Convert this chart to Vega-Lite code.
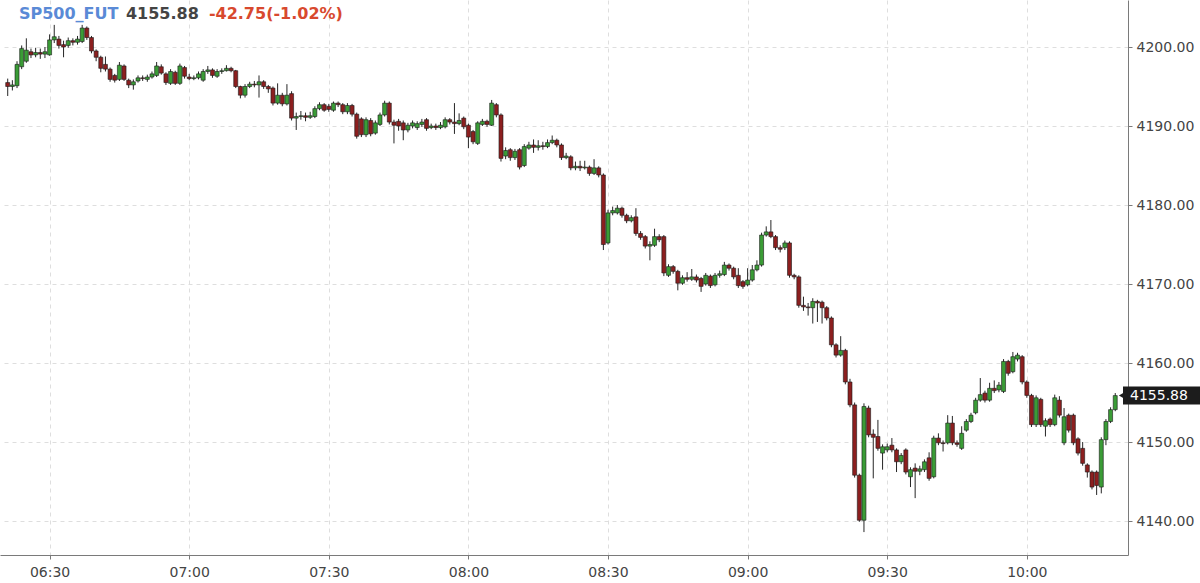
{
  "$schema": "https://vega.github.io/schema/vega-lite/v6.json",
  "width": 1128,
  "height": 555,
  "autosize": {"type": "none"},
  "padding": {"left": 0, "top": 0, "right": 72, "bottom": 28},
  "background": "#ffffff",
  "config": {
    "view": {"stroke": null},
    "axis": {
      "labelFont": "DejaVu Sans",
      "labelFontSize": 14,
      "labelColor": "#444444",
      "domainColor": "#7a7a7a",
      "tickColor": "#7a7a7a",
      "gridColor": "#dedede",
      "gridDash": [4, 4],
      "tickSize": 4
    }
  },
  "data": {
    "format": {"parse": {"t": "utc:'%H:%M'"}},
    "values": [
      {"t":"06:21","o":4195.5,"h":4196.0,"l":4193.8,"c":4195.0},
      {"t":"06:22","o":4195.0,"h":4195.8,"l":4194.5,"c":4195.2},
      {"t":"06:23","o":4195.1,"h":4198.2,"l":4194.8,"c":4197.8},
      {"t":"06:24","o":4197.5,"h":4200.2,"l":4197.2,"c":4199.8},
      {"t":"06:25","o":4198.2,"h":4201.1,"l":4198.0,"c":4199.6},
      {"t":"06:26","o":4199.4,"h":4199.8,"l":4198.6,"c":4199.0},
      {"t":"06:27","o":4199.0,"h":4199.9,"l":4198.7,"c":4199.3},
      {"t":"06:28","o":4199.3,"h":4199.8,"l":4198.5,"c":4199.1},
      {"t":"06:29","o":4199.1,"h":4200.0,"l":4198.6,"c":4199.4},
      {"t":"06:30","o":4199.0,"h":4201.6,"l":4198.9,"c":4200.9},
      {"t":"06:31","o":4200.9,"h":4202.8,"l":4200.5,"c":4201.3},
      {"t":"06:32","o":4201.0,"h":4201.4,"l":4199.8,"c":4200.2},
      {"t":"06:33","o":4200.3,"h":4200.8,"l":4198.7,"c":4200.0},
      {"t":"06:34","o":4200.2,"h":4201.2,"l":4199.9,"c":4200.8},
      {"t":"06:35","o":4200.8,"h":4201.1,"l":4200.2,"c":4200.6},
      {"t":"06:36","o":4200.6,"h":4201.4,"l":4200.3,"c":4201.0},
      {"t":"06:37","o":4200.7,"h":4202.8,"l":4200.5,"c":4202.4},
      {"t":"06:38","o":4202.4,"h":4202.6,"l":4200.9,"c":4201.2},
      {"t":"06:39","o":4201.2,"h":4201.4,"l":4199.2,"c":4199.5},
      {"t":"06:40","o":4199.5,"h":4199.7,"l":4198.2,"c":4198.7},
      {"t":"06:41","o":4198.7,"h":4198.9,"l":4196.8,"c":4197.3},
      {"t":"06:42","o":4197.8,"h":4198.8,"l":4196.9,"c":4197.2},
      {"t":"06:43","o":4197.2,"h":4197.4,"l":4195.6,"c":4195.9},
      {"t":"06:44","o":4196.4,"h":4196.6,"l":4195.5,"c":4195.8},
      {"t":"06:45","o":4195.9,"h":4198.1,"l":4195.7,"c":4197.7},
      {"t":"06:46","o":4197.6,"h":4197.8,"l":4195.7,"c":4195.9},
      {"t":"06:47","o":4195.8,"h":4196.0,"l":4194.8,"c":4195.2},
      {"t":"06:48","o":4195.2,"h":4195.9,"l":4194.6,"c":4195.6},
      {"t":"06:49","o":4195.7,"h":4196.4,"l":4195.5,"c":4196.1},
      {"t":"06:50","o":4196.1,"h":4196.4,"l":4195.7,"c":4196.0},
      {"t":"06:51","o":4195.9,"h":4196.5,"l":4195.6,"c":4196.2},
      {"t":"06:52","o":4196.2,"h":4196.9,"l":4196.0,"c":4196.6},
      {"t":"06:53","o":4196.4,"h":4198.1,"l":4196.2,"c":4197.6},
      {"t":"06:54","o":4197.5,"h":4197.8,"l":4196.5,"c":4196.7},
      {"t":"06:55","o":4196.6,"h":4196.8,"l":4195.2,"c":4195.5},
      {"t":"06:56","o":4195.4,"h":4197.2,"l":4195.2,"c":4196.9},
      {"t":"06:57","o":4196.8,"h":4197.0,"l":4195.2,"c":4195.4},
      {"t":"06:58","o":4195.4,"h":4197.9,"l":4195.2,"c":4197.6},
      {"t":"06:59","o":4197.4,"h":4197.6,"l":4196.0,"c":4196.3},
      {"t":"07:00","o":4196.2,"h":4196.6,"l":4195.8,"c":4196.0},
      {"t":"07:01","o":4196.0,"h":4196.4,"l":4195.8,"c":4196.1},
      {"t":"07:02","o":4196.1,"h":4196.9,"l":4195.9,"c":4196.6},
      {"t":"07:03","o":4195.8,"h":4197.2,"l":4195.6,"c":4196.9},
      {"t":"07:04","o":4196.9,"h":4197.6,"l":4196.6,"c":4197.1},
      {"t":"07:05","o":4197.1,"h":4197.3,"l":4196.1,"c":4196.4},
      {"t":"07:06","o":4196.3,"h":4197.2,"l":4196.1,"c":4196.9},
      {"t":"07:07","o":4196.9,"h":4197.3,"l":4196.6,"c":4197.0},
      {"t":"07:08","o":4197.0,"h":4197.7,"l":4196.9,"c":4197.3},
      {"t":"07:09","o":4197.3,"h":4197.5,"l":4196.8,"c":4197.0},
      {"t":"07:10","o":4197.0,"h":4197.1,"l":4194.8,"c":4195.0},
      {"t":"07:11","o":4195.0,"h":4195.1,"l":4193.5,"c":4193.9},
      {"t":"07:12","o":4193.9,"h":4195.3,"l":4193.6,"c":4195.0},
      {"t":"07:13","o":4195.0,"h":4195.6,"l":4194.8,"c":4195.3},
      {"t":"07:14","o":4195.3,"h":4195.7,"l":4194.9,"c":4195.2},
      {"t":"07:15","o":4195.2,"h":4196.4,"l":4193.6,"c":4195.6},
      {"t":"07:16","o":4195.6,"h":4195.8,"l":4194.7,"c":4195.0},
      {"t":"07:17","o":4195.0,"h":4195.2,"l":4194.2,"c":4194.7},
      {"t":"07:18","o":4194.8,"h":4195.0,"l":4192.6,"c":4192.9},
      {"t":"07:19","o":4192.9,"h":4195.4,"l":4192.7,"c":4193.9},
      {"t":"07:20","o":4193.9,"h":4194.2,"l":4192.5,"c":4192.8},
      {"t":"07:21","o":4192.8,"h":4195.3,"l":4192.6,"c":4193.9},
      {"t":"07:22","o":4194.1,"h":4194.4,"l":4190.7,"c":4191.0},
      {"t":"07:23","o":4191.0,"h":4191.7,"l":4189.5,"c":4191.2},
      {"t":"07:24","o":4191.2,"h":4191.9,"l":4190.8,"c":4191.3},
      {"t":"07:25","o":4191.3,"h":4191.7,"l":4190.6,"c":4191.1},
      {"t":"07:26","o":4191.1,"h":4191.8,"l":4190.9,"c":4191.3},
      {"t":"07:27","o":4191.2,"h":4192.5,"l":4191.0,"c":4192.2},
      {"t":"07:28","o":4192.2,"h":4193.0,"l":4192.0,"c":4192.7},
      {"t":"07:29","o":4192.7,"h":4192.9,"l":4191.8,"c":4192.0},
      {"t":"07:30","o":4192.5,"h":4192.8,"l":4191.8,"c":4192.1},
      {"t":"07:31","o":4192.0,"h":4193.1,"l":4191.8,"c":4192.9},
      {"t":"07:32","o":4192.9,"h":4193.1,"l":4192.4,"c":4192.7},
      {"t":"07:33","o":4192.7,"h":4192.9,"l":4191.5,"c":4191.8},
      {"t":"07:34","o":4191.8,"h":4192.9,"l":4191.5,"c":4192.6},
      {"t":"07:35","o":4192.6,"h":4192.8,"l":4191.2,"c":4191.5},
      {"t":"07:36","o":4191.5,"h":4191.7,"l":4188.4,"c":4188.7},
      {"t":"07:37","o":4190.9,"h":4191.1,"l":4188.6,"c":4188.9},
      {"t":"07:38","o":4188.9,"h":4191.1,"l":4188.6,"c":4190.8},
      {"t":"07:39","o":4190.7,"h":4191.0,"l":4188.7,"c":4189.0},
      {"t":"07:40","o":4189.1,"h":4190.7,"l":4188.9,"c":4190.4},
      {"t":"07:41","o":4190.2,"h":4191.7,"l":4190.0,"c":4191.4},
      {"t":"07:42","o":4191.4,"h":4193.2,"l":4191.2,"c":4192.9},
      {"t":"07:43","o":4192.9,"h":4193.1,"l":4190.2,"c":4190.5},
      {"t":"07:44","o":4190.5,"h":4190.8,"l":4187.8,"c":4190.1},
      {"t":"07:45","o":4190.6,"h":4190.9,"l":4189.4,"c":4190.0},
      {"t":"07:46","o":4190.4,"h":4190.7,"l":4188.2,"c":4189.5},
      {"t":"07:47","o":4189.5,"h":4190.4,"l":4189.2,"c":4190.1},
      {"t":"07:48","o":4190.0,"h":4190.7,"l":4189.7,"c":4190.4},
      {"t":"07:49","o":4189.8,"h":4190.6,"l":4189.5,"c":4190.3},
      {"t":"07:50","o":4190.2,"h":4190.9,"l":4189.9,"c":4190.5},
      {"t":"07:51","o":4190.8,"h":4191.0,"l":4189.4,"c":4189.7},
      {"t":"07:52","o":4189.8,"h":4190.3,"l":4189.6,"c":4190.0},
      {"t":"07:53","o":4190.0,"h":4190.3,"l":4189.5,"c":4189.8},
      {"t":"07:54","o":4189.8,"h":4190.5,"l":4189.6,"c":4190.1},
      {"t":"07:55","o":4189.9,"h":4191.1,"l":4189.7,"c":4190.8},
      {"t":"07:56","o":4190.8,"h":4191.0,"l":4190.2,"c":4190.5},
      {"t":"07:57","o":4190.5,"h":4192.9,"l":4189.0,"c":4190.3},
      {"t":"07:58","o":4190.3,"h":4191.6,"l":4190.1,"c":4190.7},
      {"t":"07:59","o":4191.0,"h":4191.2,"l":4189.6,"c":4189.9},
      {"t":"08:00","o":4190.1,"h":4190.3,"l":4187.2,"c":4188.6},
      {"t":"08:01","o":4189.3,"h":4189.5,"l":4187.7,"c":4188.0},
      {"t":"08:02","o":4187.8,"h":4190.6,"l":4187.6,"c":4190.4},
      {"t":"08:03","o":4190.2,"h":4190.9,"l":4190.0,"c":4190.6},
      {"t":"08:04","o":4190.6,"h":4190.8,"l":4189.9,"c":4190.2},
      {"t":"08:05","o":4190.1,"h":4193.3,"l":4190.0,"c":4192.9},
      {"t":"08:06","o":4192.7,"h":4192.9,"l":4191.1,"c":4191.4},
      {"t":"08:07","o":4191.4,"h":4191.6,"l":4185.5,"c":4185.9},
      {"t":"08:08","o":4186.2,"h":4187.3,"l":4185.8,"c":4186.9},
      {"t":"08:09","o":4187.0,"h":4187.2,"l":4185.6,"c":4186.0},
      {"t":"08:10","o":4186.0,"h":4187.1,"l":4185.7,"c":4186.8},
      {"t":"08:11","o":4187.0,"h":4187.2,"l":4184.5,"c":4184.8},
      {"t":"08:12","o":4185.0,"h":4187.7,"l":4184.8,"c":4187.4},
      {"t":"08:13","o":4187.2,"h":4188.0,"l":4187.0,"c":4187.6},
      {"t":"08:14","o":4187.6,"h":4188.3,"l":4186.6,"c":4187.3},
      {"t":"08:15","o":4187.3,"h":4188.2,"l":4186.9,"c":4187.5},
      {"t":"08:16","o":4187.5,"h":4188.0,"l":4187.0,"c":4187.4},
      {"t":"08:17","o":4187.4,"h":4188.3,"l":4187.2,"c":4187.9},
      {"t":"08:18","o":4187.9,"h":4188.8,"l":4187.7,"c":4188.2},
      {"t":"08:19","o":4188.2,"h":4188.4,"l":4187.3,"c":4187.6},
      {"t":"08:20","o":4187.6,"h":4187.8,"l":4185.7,"c":4186.0},
      {"t":"08:21","o":4186.0,"h":4186.6,"l":4185.8,"c":4186.2},
      {"t":"08:22","o":4186.1,"h":4186.3,"l":4184.4,"c":4184.7},
      {"t":"08:23","o":4184.7,"h":4185.5,"l":4184.4,"c":4184.9},
      {"t":"08:24","o":4184.9,"h":4185.6,"l":4184.3,"c":4184.7},
      {"t":"08:25","o":4184.7,"h":4185.6,"l":4184.5,"c":4184.8},
      {"t":"08:26","o":4184.8,"h":4185.0,"l":4183.7,"c":4184.0},
      {"t":"08:27","o":4184.0,"h":4185.8,"l":4183.8,"c":4184.7},
      {"t":"08:28","o":4184.7,"h":4184.9,"l":4183.5,"c":4183.8},
      {"t":"08:29","o":4183.8,"h":4184.0,"l":4174.3,"c":4175.0},
      {"t":"08:30","o":4175.2,"h":4179.4,"l":4175.0,"c":4179.0},
      {"t":"08:31","o":4179.0,"h":4179.8,"l":4178.7,"c":4179.3},
      {"t":"08:32","o":4179.0,"h":4180.0,"l":4178.8,"c":4179.6},
      {"t":"08:33","o":4179.6,"h":4179.8,"l":4178.4,"c":4178.7},
      {"t":"08:34","o":4178.7,"h":4178.9,"l":4177.7,"c":4178.0},
      {"t":"08:35","o":4178.0,"h":4178.7,"l":4177.8,"c":4178.4},
      {"t":"08:36","o":4178.5,"h":4179.6,"l":4176.1,"c":4176.4},
      {"t":"08:37","o":4176.4,"h":4176.7,"l":4175.6,"c":4175.9},
      {"t":"08:38","o":4176.0,"h":4176.2,"l":4174.5,"c":4174.8},
      {"t":"08:39","o":4174.8,"h":4175.4,"l":4173.0,"c":4175.0},
      {"t":"08:40","o":4174.9,"h":4177.0,"l":4174.7,"c":4176.0},
      {"t":"08:41","o":4176.0,"h":4176.3,"l":4175.3,"c":4175.6},
      {"t":"08:42","o":4176.0,"h":4176.2,"l":4171.0,"c":4171.4},
      {"t":"08:43","o":4171.1,"h":4172.5,"l":4170.9,"c":4172.2},
      {"t":"08:44","o":4172.2,"h":4172.4,"l":4171.3,"c":4171.6},
      {"t":"08:45","o":4171.6,"h":4171.8,"l":4169.2,"c":4170.1},
      {"t":"08:46","o":4170.1,"h":4171.1,"l":4169.9,"c":4170.8},
      {"t":"08:47","o":4170.8,"h":4171.5,"l":4170.3,"c":4170.6},
      {"t":"08:48","o":4170.6,"h":4171.9,"l":4170.4,"c":4170.9},
      {"t":"08:49","o":4170.9,"h":4171.2,"l":4170.2,"c":4170.5},
      {"t":"08:50","o":4170.7,"h":4170.9,"l":4169.0,"c":4169.7},
      {"t":"08:51","o":4170.0,"h":4171.4,"l":4169.8,"c":4171.1},
      {"t":"08:52","o":4171.0,"h":4171.2,"l":4169.5,"c":4169.8},
      {"t":"08:53","o":4169.9,"h":4171.4,"l":4169.7,"c":4171.1},
      {"t":"08:54","o":4171.1,"h":4171.7,"l":4170.8,"c":4171.3},
      {"t":"08:55","o":4171.2,"h":4172.8,"l":4171.0,"c":4172.4},
      {"t":"08:56","o":4172.4,"h":4172.6,"l":4171.7,"c":4172.0},
      {"t":"08:57","o":4172.0,"h":4172.2,"l":4170.6,"c":4170.9},
      {"t":"08:58","o":4171.1,"h":4172.0,"l":4169.5,"c":4169.8},
      {"t":"08:59","o":4170.3,"h":4170.5,"l":4169.4,"c":4169.7},
      {"t":"09:00","o":4169.9,"h":4172.0,"l":4169.7,"c":4170.5},
      {"t":"09:01","o":4170.5,"h":4172.4,"l":4170.3,"c":4171.8},
      {"t":"09:02","o":4171.8,"h":4173.0,"l":4171.6,"c":4172.4},
      {"t":"09:03","o":4172.4,"h":4176.5,"l":4172.2,"c":4176.2},
      {"t":"09:04","o":4176.2,"h":4177.3,"l":4176.0,"c":4176.6},
      {"t":"09:05","o":4176.6,"h":4178.1,"l":4175.8,"c":4176.0},
      {"t":"09:06","o":4176.0,"h":4176.2,"l":4174.3,"c":4174.6},
      {"t":"09:07","o":4174.6,"h":4174.9,"l":4174.0,"c":4174.4},
      {"t":"09:08","o":4174.6,"h":4175.5,"l":4174.3,"c":4175.2},
      {"t":"09:09","o":4175.2,"h":4175.4,"l":4170.8,"c":4171.1},
      {"t":"09:10","o":4171.1,"h":4171.3,"l":4170.6,"c":4170.9},
      {"t":"09:11","o":4170.9,"h":4171.1,"l":4167.0,"c":4167.3},
      {"t":"09:12","o":4167.3,"h":4168.4,"l":4166.6,"c":4167.1},
      {"t":"09:13","o":4167.1,"h":4167.6,"l":4166.0,"c":4167.0},
      {"t":"09:14","o":4167.0,"h":4168.2,"l":4165.0,"c":4167.8},
      {"t":"09:15","o":4167.8,"h":4168.0,"l":4165.2,"c":4167.6},
      {"t":"09:16","o":4167.7,"h":4167.9,"l":4165.0,"c":4167.0},
      {"t":"09:17","o":4167.0,"h":4167.2,"l":4165.4,"c":4165.7},
      {"t":"09:18","o":4165.7,"h":4165.9,"l":4162.0,"c":4162.3},
      {"t":"09:19","o":4162.3,"h":4162.5,"l":4160.7,"c":4161.0},
      {"t":"09:20","o":4161.0,"h":4163.4,"l":4160.8,"c":4161.6},
      {"t":"09:21","o":4161.6,"h":4161.8,"l":4157.3,"c":4157.6},
      {"t":"09:22","o":4157.6,"h":4158.0,"l":4154.4,"c":4154.7},
      {"t":"09:23","o":4154.7,"h":4155.0,"l":4145.5,"c":4145.8},
      {"t":"09:24","o":4145.8,"h":4146.0,"l":4139.9,"c":4140.1},
      {"t":"09:25","o":4140.1,"h":4154.9,"l":4138.6,"c":4154.5},
      {"t":"09:26","o":4154.3,"h":4154.6,"l":4150.6,"c":4150.9},
      {"t":"09:27","o":4151.0,"h":4151.6,"l":4145.4,"c":4150.6},
      {"t":"09:28","o":4150.7,"h":4152.8,"l":4148.9,"c":4149.2},
      {"t":"09:29","o":4148.6,"h":4149.7,"l":4146.5,"c":4149.4},
      {"t":"09:30","o":4149.0,"h":4149.8,"l":4148.7,"c":4149.4},
      {"t":"09:31","o":4149.6,"h":4150.5,"l":4148.7,"c":4149.0},
      {"t":"09:32","o":4149.0,"h":4149.2,"l":4146.2,"c":4147.5},
      {"t":"09:33","o":4147.5,"h":4148.6,"l":4147.2,"c":4148.3},
      {"t":"09:34","o":4149.0,"h":4149.2,"l":4145.9,"c":4146.2},
      {"t":"09:35","o":4145.6,"h":4146.8,"l":4144.3,"c":4146.5},
      {"t":"09:36","o":4146.7,"h":4147.3,"l":4142.9,"c":4146.3},
      {"t":"09:37","o":4146.3,"h":4147.0,"l":4145.8,"c":4146.6},
      {"t":"09:38","o":4146.5,"h":4147.8,"l":4146.2,"c":4147.5},
      {"t":"09:39","o":4148.0,"h":4148.7,"l":4145.1,"c":4145.4},
      {"t":"09:40","o":4145.6,"h":4150.8,"l":4145.4,"c":4150.5},
      {"t":"09:41","o":4150.5,"h":4151.1,"l":4149.6,"c":4149.9},
      {"t":"09:42","o":4149.9,"h":4150.2,"l":4148.8,"c":4149.8},
      {"t":"09:43","o":4149.9,"h":4153.4,"l":4149.7,"c":4152.4},
      {"t":"09:44","o":4152.4,"h":4153.3,"l":4149.6,"c":4149.9},
      {"t":"09:45","o":4149.9,"h":4150.2,"l":4149.4,"c":4149.7},
      {"t":"09:46","o":4149.2,"h":4152.0,"l":4149.0,"c":4151.1},
      {"t":"09:47","o":4151.5,"h":4152.9,"l":4151.3,"c":4152.6},
      {"t":"09:48","o":4152.6,"h":4153.7,"l":4152.4,"c":4153.4},
      {"t":"09:49","o":4153.7,"h":4155.6,"l":4153.5,"c":4155.3},
      {"t":"09:50","o":4155.3,"h":4158.1,"l":4155.1,"c":4156.0},
      {"t":"09:51","o":4156.2,"h":4156.5,"l":4155.0,"c":4155.3},
      {"t":"09:52","o":4155.3,"h":4157.5,"l":4155.1,"c":4156.8},
      {"t":"09:53","o":4156.8,"h":4157.8,"l":4156.2,"c":4156.5},
      {"t":"09:54","o":4156.6,"h":4157.6,"l":4156.3,"c":4157.2},
      {"t":"09:55","o":4156.4,"h":4160.5,"l":4156.2,"c":4160.2},
      {"t":"09:56","o":4160.2,"h":4160.4,"l":4158.4,"c":4158.7},
      {"t":"09:57","o":4158.9,"h":4161.4,"l":4158.7,"c":4160.8},
      {"t":"09:58","o":4160.5,"h":4161.3,"l":4160.2,"c":4161.0},
      {"t":"09:59","o":4160.8,"h":4161.0,"l":4157.3,"c":4157.6},
      {"t":"10:00","o":4157.6,"h":4157.8,"l":4155.6,"c":4155.9},
      {"t":"10:01","o":4155.9,"h":4156.1,"l":4151.9,"c":4152.2},
      {"t":"10:02","o":4152.2,"h":4155.9,"l":4151.9,"c":4155.6},
      {"t":"10:03","o":4155.4,"h":4155.6,"l":4151.9,"c":4152.2},
      {"t":"10:04","o":4152.0,"h":4153.0,"l":4150.7,"c":4152.7},
      {"t":"10:05","o":4152.9,"h":4153.1,"l":4151.9,"c":4152.2},
      {"t":"10:06","o":4152.2,"h":4156.0,"l":4152.0,"c":4155.6},
      {"t":"10:07","o":4155.3,"h":4155.8,"l":4153.1,"c":4153.4},
      {"t":"10:08","o":4149.9,"h":4154.3,"l":4149.6,"c":4153.2},
      {"t":"10:09","o":4153.4,"h":4153.6,"l":4151.2,"c":4151.5},
      {"t":"10:10","o":4153.4,"h":4153.6,"l":4149.6,"c":4149.9},
      {"t":"10:11","o":4150.4,"h":4150.6,"l":4148.3,"c":4148.6},
      {"t":"10:12","o":4149.2,"h":4150.0,"l":4147.0,"c":4147.3},
      {"t":"10:13","o":4147.1,"h":4147.3,"l":4145.5,"c":4146.2},
      {"t":"10:14","o":4146.2,"h":4146.4,"l":4144.0,"c":4144.3},
      {"t":"10:15","o":4146.2,"h":4146.4,"l":4143.3,"c":4144.5},
      {"t":"10:16","o":4144.3,"h":4150.6,"l":4143.5,"c":4150.3},
      {"t":"10:17","o":4150.3,"h":4152.9,"l":4149.6,"c":4152.6},
      {"t":"10:18","o":4152.6,"h":4154.4,"l":4152.4,"c":4154.1},
      {"t":"10:19","o":4154.1,"h":4156.2,"l":4153.9,"c":4155.88}
    ]
  },
  "layer": [
    {
      "mark": {"type": "rule", "color": "#262626", "strokeWidth": 1},
      "encoding": {
        "x": {
          "field": "t",
          "type": "temporal",
          "title": null,
          "scale": {
            "type": "utc",
            "nice": false,
            "domain": [
              {"year": 1900, "month": 1, "date": 1, "hours": 6, "minutes": 20, "seconds": 25, "utc": true},
              {"year": 1900, "month": 1, "date": 1, "hours": 10, "minutes": 20, "seconds": 40, "utc": true}
            ]
          },
          "axis": {
            "orient": "bottom",
            "format": "%H:%M",
            "values": [
              {"year": 1900, "month": 1, "date": 1, "hours": 6, "minutes": 30, "utc": true},
              {"year": 1900, "month": 1, "date": 1, "hours": 7, "minutes": 0, "utc": true},
              {"year": 1900, "month": 1, "date": 1, "hours": 7, "minutes": 30, "utc": true},
              {"year": 1900, "month": 1, "date": 1, "hours": 8, "minutes": 0, "utc": true},
              {"year": 1900, "month": 1, "date": 1, "hours": 8, "minutes": 30, "utc": true},
              {"year": 1900, "month": 1, "date": 1, "hours": 9, "minutes": 0, "utc": true},
              {"year": 1900, "month": 1, "date": 1, "hours": 9, "minutes": 30, "utc": true},
              {"year": 1900, "month": 1, "date": 1, "hours": 10, "minutes": 0, "utc": true}
            ],
            "labelPadding": 6,
            "grid": true
          }
        },
        "y": {
          "field": "l",
          "type": "quantitative",
          "title": null,
          "scale": {"domain": [4135.7, 4205.95], "nice": false, "zero": false},
          "axis": {
            "orient": "right",
            "values": [4140, 4150, 4160, 4170, 4180, 4190, 4200],
            "format": ".2f",
            "labelAlign": "left",
            "labelPadding": 4,
            "grid": true
          }
        },
        "y2": {"field": "h"}
      }
    },
    {
      "mark": {"type": "bar", "width": 4, "stroke": "#1a1a1a", "strokeWidth": 0.6},
      "encoding": {
        "x": {"field": "t", "type": "temporal"},
        "y": {"field": "o", "type": "quantitative", "title": null},
        "y2": {"field": "c"},
        "color": {
          "condition": {"test": "datum.c > datum.o", "value": "#3a9c36"},
          "value": "#8c1f1f"
        }
      }
    },
    {
      "data": {"values": [{}]},
      "mark": {"type": "text", "align": "left", "baseline": "middle", "fontSize": 16, "fontWeight": "bold", "color": "#5a8ad6", "font": "DejaVu Sans"},
      "encoding": {
        "x": {"datum": -2208965796000, "type": "temporal"},
        "y": {"datum": 4204.2, "type": "quantitative"},
        "text": {"value": "SP500_FUT"}
      }
    },
    {
      "data": {"values": [{}]},
      "mark": {"type": "text", "align": "left", "baseline": "middle", "fontSize": 16, "fontWeight": "bold", "color": "#444444", "font": "DejaVu Sans", "dx": 107},
      "encoding": {
        "x": {"datum": -2208965796000, "type": "temporal"},
        "y": {"datum": 4204.2, "type": "quantitative"},
        "text": {"value": "4155.88"}
      }
    },
    {
      "data": {"values": [{}]},
      "mark": {"type": "text", "align": "left", "baseline": "middle", "fontSize": 16, "fontWeight": "bold", "color": "#d8492e", "font": "DejaVu Sans", "dx": 190},
      "encoding": {
        "x": {"datum": -2208965796000, "type": "temporal"},
        "y": {"datum": 4204.2, "type": "quantitative"},
        "text": {"value": "-42.75(-1.02%)"}
      }
    },
    {
      "data": {"values": [{}]},
      "mark": {"type": "rule", "color": "#1c1c1c", "strokeWidth": 18},
      "encoding": {
        "x": {"datum": -2208951560000, "type": "temporal"},
        "x2": {"datum": -2208950400000},
        "y": {"datum": 4155.88, "type": "quantitative"}
      }
    },
    {
      "data": {"values": [{}]},
      "mark": {"type": "point", "shape": "triangle-left", "filled": true, "size": 90, "color": "#1c1c1c", "opacity": 1},
      "encoding": {
        "x": {"datum": -2208951560000, "type": "temporal"},
        "y": {"datum": 4155.88, "type": "quantitative"}
      }
    },
    {
      "data": {"values": [{}]},
      "mark": {"type": "text", "align": "left", "baseline": "middle", "fontSize": 14, "color": "#ffffff", "font": "DejaVu Sans", "dx": 7},
      "encoding": {
        "x": {"datum": -2208951560000, "type": "temporal"},
        "y": {"datum": 4155.88, "type": "quantitative"},
        "text": {"value": "4155.88"}
      }
    }
  ]
}
